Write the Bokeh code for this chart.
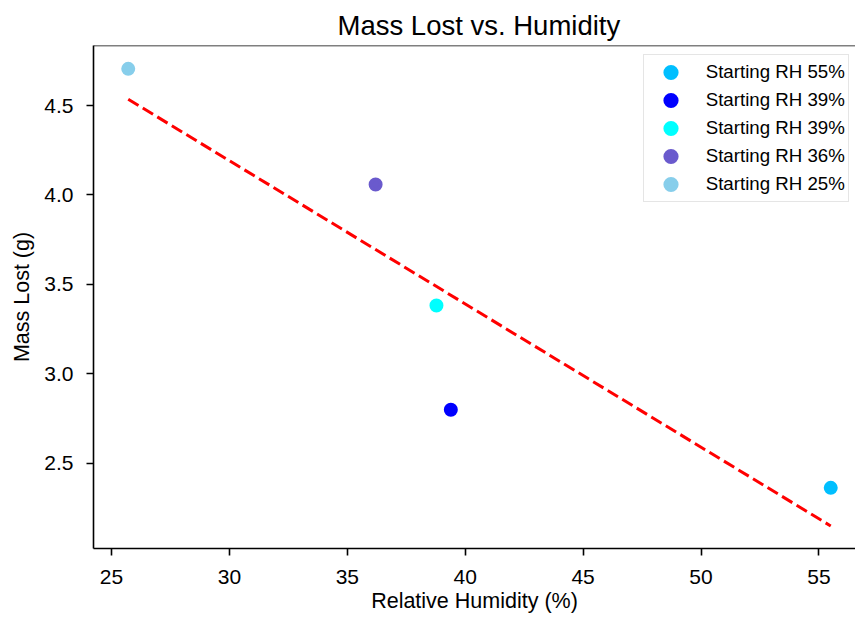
from bokeh.plotting import figure
from bokeh.models import (Range1d, FixedTicker, Legend, LegendItem, Span)
from bokeh.embed import file_html
from bokeh.resources import INLINE

# ---- data ----
labels = ["Starting RH 55%", "Starting RH 39%", "Starting RH 39%",
          "Starting RH 36%", "Starting RH 25%"]
humidity = [55.5, 39.39, 38.78, 36.2, 25.71]
mass_lost = [2.362, 2.799, 3.382, 4.058, 4.705]
colors = ["#00BFFF", "#0000FF", "#00FFFF", "#6A5ACD", "#87CEEB"]
fit_x = [25.71, 55.5]
fit_y = [4.535, 2.149]
x_ticks = [25, 30, 35, 40, 45, 50, 55]
y_ticks = [2.5, 3.0, 3.5, 4.0, 4.5]
y_tick_labels = ["2.5", "3.0", "3.5", "4.0", "4.5"]

FONT = "Liberation Sans"
Y_TOP = 4.8355

p = figure(width=855, height=618, output_backend="svg", toolbar_location=None,
           x_range=Range1d(24.237, 56.55), y_range=Range1d(2.023, Y_TOP),
           min_border_left=93, min_border_right=0, min_border_top=45,
           min_border_bottom=70)

p.title.text = "Mass Lost vs. Humidity"
p.title.text_font = FONT
p.title.text_font_size = "27.5px"
p.title.text_font_style = "normal"
p.title.text_color = "black"
p.title.align = "left"
p.title.offset = 244
p.title.standoff = 10

p.grid.visible = False
p.outline_line_color = None
p.background_fill_color = "white"

for ax in (p.xaxis[0], p.yaxis[0]):
    ax.axis_line_color = "black"
    ax.axis_line_width = 1.6
    ax.major_tick_line_color = "black"
    ax.major_tick_line_width = 1.6
    ax.major_tick_out = 7
    ax.major_tick_in = 0
    ax.minor_tick_line_color = None
    ax.major_label_text_font = FONT
    ax.major_label_text_font_size = "21px"
    ax.major_label_text_color = "black"
    ax.axis_label_text_font = FONT
    ax.axis_label_text_font_size = "21.5px"
    ax.axis_label_text_font_style = "normal"
    ax.axis_label_text_color = "black"

p.xaxis[0].ticker = FixedTicker(ticks=x_ticks)
p.yaxis[0].ticker = FixedTicker(ticks=y_ticks)
p.yaxis[0].major_label_overrides = {t: s for t, s in zip(y_ticks, y_tick_labels)}
p.xaxis[0].axis_label = "Relative Humidity (%)"
p.yaxis[0].axis_label = "Mass Lost (g)"
p.xaxis[0].major_label_standoff = 14
p.xaxis[0].axis_label_standoff = 2
p.yaxis[0].major_label_standoff = 13
p.yaxis[0].axis_label_standoff = 7

# top spine
p.add_layout(Span(location=Y_TOP, dimension="width", line_color="black",
                  line_width=1.6))

items = []
for i in range(len(humidity)):
    r = p.scatter([humidity[i]], [mass_lost[i]], size=10, color=colors[i],
                  line_color=colors[i], line_width=4)
    items.append(LegendItem(label=labels[i], renderers=[r]))

p.line(fit_x, fit_y, line_color="red", line_width=3, line_dash="12 5")

legend = Legend(items=items, location=(549.7, 346.3),
                padding=3, spacing=0, glyph_height=28, glyph_width=47,
                label_height=28, label_standoff=12,
                label_text_font=FONT, label_text_font_size="18.7px",
                label_text_color="black",
                border_line_color="#cccccc", border_line_width=1,
                background_fill_color="white", background_fill_alpha=0.8,
                margin=0)
p.add_layout(legend)

open("out.html", "w").write(file_html(p, INLINE))
